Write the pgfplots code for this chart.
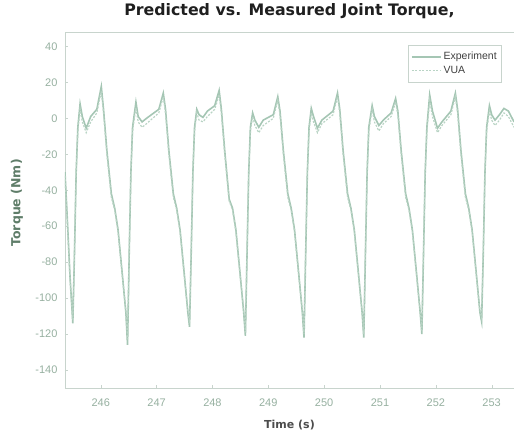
\documentclass[border=0pt]{standalone}
\usepackage{fontspec}
\setmainfont{Liberation Sans}
\newfontfamily\djfont{DejaVu Sans}
\usepackage{pgfplots}
\pgfplotsset{compat=1.18}
\definecolor{linec}{RGB}{165,198,180}
\definecolor{linec2}{RGB}{185,212,197}
\definecolor{tickc}{RGB}{150,176,160}
\definecolor{ylabc}{RGB}{95,125,105}
\definecolor{axc}{RGB}{200,212,205}
\begin{document}
\begin{tikzpicture}
\begin{axis}[
  at={(0,0)}, anchor=south west,
  scale only axis, width=449pt, height=356pt,
  xmin=245.36, xmax=253.4, ymin=-150, ymax=48,
  xtick={246,247,...,253}, ytick={-140,-120,...,40},
  axis line style={axc, line width=0.8pt},
  tick style={axc},
  major tick length=3pt,
  tick align=inside,
  xtick pos=bottom, ytick pos=left,
  /pgf/number format/assume math mode=true,
  ticklabel style={font=\fontsize{11}{13}\selectfont, text=tickc},
  xticklabel style={yshift=-7pt},
  yticklabel style={xshift=-4pt},
  xlabel={\djfont\bfseries Time (s)},
  ylabel={\djfont\bfseries Torque (Nm)},
  xlabel style={font=\fontsize{11}{13}\selectfont, text=black!70, at={(axis description cs:0.5,-0.104)}, anchor=center},
  ylabel style={font=\fontsize{12.5}{15}\selectfont, text=ylabc, at={(axis description cs:-0.107,0.52)}, anchor=center, rotate=0},
  title={\djfont\bfseries Predicted vs. Measured Joint Torque,},
  title style={font=\fontsize{15.8}{18}\selectfont, text=black!88, at={(axis description cs:0.5,1.042)}, anchor=center},
  legend style={at={(rel axis cs:0.973,0.963)}, anchor=north east,
    draw=axc, font=\fontsize{10.5}{12}\selectfont, text=black!75,
    row sep=1pt, inner xsep=3pt, inner ysep=5pt},
  legend image code/.code={\draw[#1] (0pt,0pt) -- (29pt,0pt);},
  legend cell align=left,
]
\addplot[linec, line width=1.6pt] coordinates {
(245.36,-30) (245.40,-55) (245.45,-88)
(245.50,-114) (245.53,-75) (245.56,-30) (245.59,-5) (245.63,8) (245.67,1) (245.74,-5.5) (245.82,1) (245.93,5) (246.01,17.7) (246.05,5) (246.11,-18) (246.19,-42) (246.25,-50) (246.31,-62) (246.39,-88) (246.45,-108)
(246.48,-126) (246.51,-75) (246.54,-30) (246.57,-5) (246.63,9) (246.67,1) (246.74,-2) (246.82,0) (247.04,5) (247.12,14) (247.16,5) (247.22,-18) (247.30,-42) (247.36,-50) (247.42,-62) (247.50,-88) (247.56,-108)
(247.59,-116) (247.62,-75) (247.65,-30) (247.68,-5) (247.72,5) (247.76,2) (247.83,0.5) (247.91,4) (248.04,7) (248.12,15.5) (248.16,5) (248.22,-18) (248.30,-45) (248.36,-50) (248.42,-62) (248.50,-88) (248.56,-108)
(248.59,-121) (248.62,-75) (248.65,-30) (248.68,-5) (248.72,3) (248.76,-1) (248.83,-5) (248.91,-1) (249.09,2) (249.17,12) (249.21,4) (249.27,-18) (249.35,-42) (249.41,-50) (249.47,-62) (249.55,-88) (249.61,-108)
(249.64,-122) (249.67,-75) (249.70,-30) (249.73,-5) (249.77,5.5) (249.81,1) (249.88,-5.5) (249.96,-1) (250.16,4) (250.24,14) (250.28,5) (250.34,-18) (250.42,-42) (250.48,-50) (250.54,-62) (250.62,-88) (250.68,-108)
(250.71,-122) (250.74,-75) (250.77,-30) (250.80,-5) (250.86,7) (250.90,1) (250.98,-4) (251.06,-1) (251.20,3) (251.28,11) (251.32,4) (251.38,-18) (251.46,-42) (251.52,-50) (251.58,-62) (251.66,-88) (251.72,-108)
(251.75,-120) (251.78,-75) (251.81,-30) (251.84,-5) (251.89,13) (251.94,4) (252.03,-5.5) (252.11,-2) (252.27,4) (252.35,14) (252.39,5) (252.45,-18) (252.53,-42) (252.59,-50) (252.65,-62) (252.73,-88) (252.79,-108)
(252.82,-113) (252.85,-75) (252.88,-30) (252.91,-5) (252.96,7) (253.00,2) (253.06,-1) (253.14,2) (253.22,5.5) (253.30,4) (253.40,-2)
};
\addlegendentry{Experiment}
\addplot[linec2, line width=1.2pt, dash pattern=on 2pt off 1.5pt] coordinates {
(245.36,-32) (245.40,-57) (245.45,-90)
(245.50,-112) (245.53,-73) (245.56,-30) (245.59,-7) (245.63,5) (245.67,-2) (245.74,-8) (245.82,-2) (245.93,3) (246.01,15) (246.05,3) (246.11,-20) (246.19,-44) (246.25,-51) (246.31,-63) (246.39,-89) (246.45,-107)
(246.48,-123) (246.51,-73) (246.54,-30) (246.57,-7) (246.63,6) (246.67,-2) (246.74,-5) (246.82,-3) (247.04,3) (247.12,12) (247.16,3) (247.22,-20) (247.30,-44) (247.36,-51) (247.42,-63) (247.50,-89) (247.56,-107)
(247.59,-114) (247.62,-73) (247.65,-30) (247.68,-7) (247.72,3) (247.76,-1) (247.83,-2) (247.91,1) (248.04,5) (248.12,13) (248.16,3) (248.22,-20) (248.30,-46) (248.36,-51) (248.42,-63) (248.50,-89) (248.56,-107)
(248.59,-119) (248.62,-73) (248.65,-30) (248.68,-7) (248.72,1) (248.76,-4) (248.83,-8) (248.91,-4) (249.09,0) (249.17,10) (249.21,2) (249.27,-20) (249.35,-44) (249.41,-51) (249.47,-63) (249.55,-89) (249.61,-107)
(249.64,-120) (249.67,-73) (249.70,-30) (249.73,-7) (249.77,3) (249.81,-2) (249.88,-8) (249.96,-3) (250.16,2) (250.24,12) (250.28,3) (250.34,-20) (250.42,-44) (250.48,-51) (250.54,-63) (250.62,-89) (250.68,-107)
(250.71,-120) (250.74,-73) (250.77,-30) (250.80,-7) (250.86,5) (250.90,-2) (250.98,-7) (251.06,-3) (251.20,1) (251.28,9) (251.32,2) (251.38,-20) (251.46,-44) (251.52,-51) (251.58,-63) (251.66,-89) (251.72,-107)
(251.75,-118) (251.78,-73) (251.81,-30) (251.84,-7) (251.89,10) (251.94,1) (252.03,-8) (252.11,-4) (252.27,2) (252.35,12) (252.39,3) (252.45,-20) (252.53,-44) (252.59,-51) (252.65,-63) (252.73,-89) (252.79,-107)
(252.82,-111) (252.85,-73) (252.88,-30) (252.91,-7) (252.96,4) (253.00,-1) (253.06,-4) (253.14,-1) (253.22,3) (253.30,1) (253.40,-5)
};
\addlegendentry{VUA}
\end{axis}
\pgfresetboundingbox
\useasboundingbox (-65pt,-49pt) rectangle (449pt,388pt);
\end{tikzpicture}
\end{document}
